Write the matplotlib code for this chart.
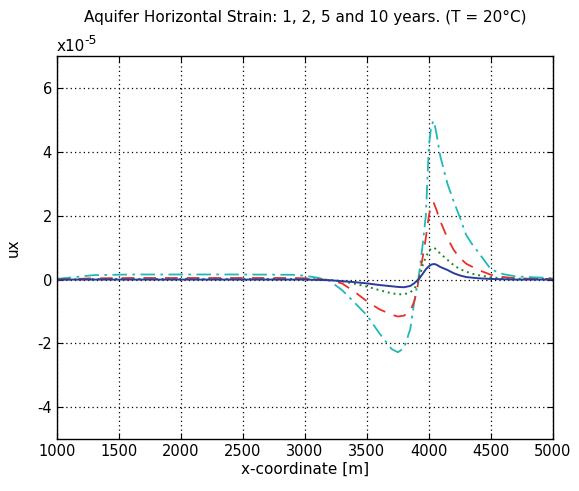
import numpy as np
import matplotlib
matplotlib.use("Agg")
import matplotlib.pyplot as plt

x_m = [1000, 1300, 1600, 2000, 2500, 2900, 3000, 3100, 3200, 3300, 3400, 3500,
       3600, 3700, 3750, 3800, 3850, 3880, 3900, 3920, 3950, 3975, 4000, 4020,
       4040, 4060, 4090, 4150, 4200, 4250, 4300, 4350, 4400, 4500, 4600, 4700,
       4850, 5000]

# horizontal strain, units of 1e-5
ux_1yr = [0.0, 0.0, 0.0, 0.0, 0.0, 0.0, 0.0, -0.01, -0.02, -0.05, -0.08, -0.12,
          -0.17, -0.21, -0.23, -0.24, -0.2, -0.12, -0.05, 0.02, 0.18, 0.32, 0.42, 0.47,
          0.49, 0.47, 0.4, 0.3, 0.2, 0.13, 0.08, 0.06, 0.04, 0.02, 0.01, 0.0,
          0.0, 0.0]
ux_2yr = [0.0, 0.02, 0.02, 0.02, 0.02, 0.02, 0.02, 0.01, -0.01, -0.05, -0.13, -0.22,
          -0.33, -0.43, -0.46, -0.46, -0.4, -0.3, -0.18, 0.02, 0.45, 0.7, 0.9, 0.98,
          1.0, 0.95, 0.82, 0.62, 0.45, 0.33, 0.25, 0.18, 0.14, 0.07, 0.04, 0.03,
          0.02, 0.01]
ux_5yr = [0.0, 0.04, 0.05, 0.05, 0.05, 0.05, 0.04, 0.02, -0.02, -0.12, -0.38, -0.68,
          -0.93, -1.1, -1.16, -1.13, -0.98, -0.7, -0.42, 0.05, 0.7, 1.3, 2.0, 2.38,
          2.4, 2.2, 1.85, 1.3, 0.93, 0.68, 0.5, 0.4, 0.3, 0.15, 0.08, 0.04,
          0.02, 0.02]
ux_10yr = [0.02, 0.14, 0.16, 0.16, 0.16, 0.15, 0.12, 0.06, -0.04, -0.33, -0.72, -1.12,
           -1.68, -2.18, -2.28, -2.15, -1.55, -0.75, -0.3, 0.15, 1.1, 2.0, 4.2, 4.85,
           4.98, 4.6, 3.9, 3.0, 2.45, 1.95, 1.4, 1.1, 0.85, 0.32, 0.17, 0.1,
           0.07, 0.05]

x_ticks = [1000, 1500, 2000, 2500, 3000, 3500, 4000, 4500, 5000]
y_ticks = [-4, -2, 0, 2, 4, 6]

plt.rcParams['font.family'] = ['DejaVu Sans']
plt.rcParams['axes.unicode_minus'] = False

fig = plt.figure(figsize=(5.79, 4.91), dpi=100, facecolor='w')
ax = fig.add_axes([0.098, 0.106, 0.857, 0.779])

ax.plot(x_m, ux_10yr, color='#22b8b8', ls=(0, (8, 3, 1.5, 3)), lw=1.3)
ax.plot(x_m, ux_5yr, color='#e8302a', ls=(0, (7, 5)), lw=1.3)
ax.plot(x_m, ux_2yr, color='#1f8a1f', ls=(0, (1, 2)), lw=1.4)
ax.plot(x_m, ux_1yr, color='#2a3d9e', ls='-', lw=1.4)

ax.set_xlim(1000, 5000)
ax.set_ylim(-5, 7)
ax.set_xticks(x_ticks)
ax.set_yticks(y_ticks)
ax.grid(True, color='k', ls=(0, (1, 2.5)), lw=0.9)
ax.tick_params(direction='in', length=4, labelsize=10.5, top=True, right=True)
for s in ax.spines.values():
    s.set_linewidth(1.0)

ax.set_xlabel('x-coordinate [m]', fontsize=11, labelpad=2)
ax.set_ylabel('ux', fontsize=11, labelpad=12)
ax.set_title('Aquifer Horizontal Strain: 1, 2, 5 and 10 years. (T = 20°C)',
             fontsize=11, pad=25)
# exponent marker, plain hyphen like the original
ax.text(0.0, 1.006, 'x10', transform=ax.transAxes, fontsize=11,
        ha='left', va='bottom')
ax.text(0.056, 1.026, '-5', transform=ax.transAxes, fontsize=9,
        ha='left', va='bottom')

fig.savefig('out.png', dpi=100)
